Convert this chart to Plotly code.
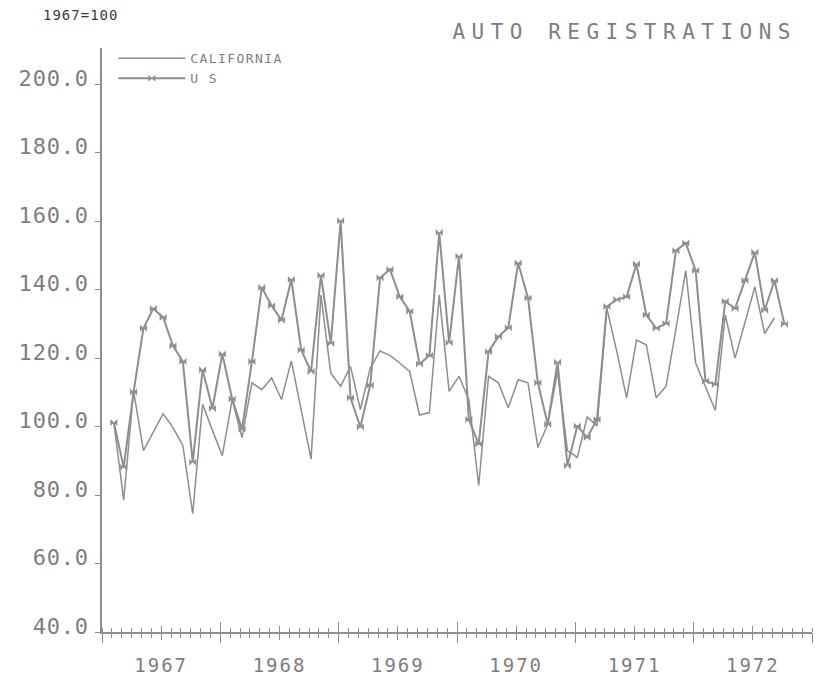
import plotly.graph_objects as go

# ---------------- data ----------------
years = [1967, 1968, 1969, 1970, 1971, 1972]
year_labels = ["1967", "1968", "1969", "1970", "1971", "1972"]

# monthly index values, 1967=100 ; first value = Jan 1967
us = [101.2, 88.1, 110.1, 128.7, 134.5, 131.9, 123.6, 119.0, 89.6, 116.6, 105.3, 121.2,
      108.1, 99.2, 119.0, 140.6, 135.3, 131.1, 143.0, 122.4, 116.1, 144.2, 124.3, 160.1,
      108.4, 99.9, 112.1, 143.5, 145.9, 137.9, 133.7, 118.3, 120.8, 156.7, 124.5, 149.8,
      102.1, 94.9, 121.9, 126.3, 128.9, 147.8, 137.6, 112.8, 100.7, 118.8, 88.6, 100.2,
      96.8, 102.1, 135.1, 137.1, 137.9, 147.5, 132.6, 128.7, 130.1, 151.4, 153.6, 145.6,
      113.3, 112.3, 136.6, 134.5, 142.7, 150.9, 134.0, 142.7, 129.9]

california = [101.2, 78.5, 110.4, 93.0, 98.4, 103.8, 99.7, 94.5, 74.6, 106.5, 98.9, 91.5,
              107.9, 96.8, 112.8, 110.8, 114.2, 107.9, 119.2, 104.8, 90.5, 138.4, 115.6, 111.8,
              117.6, 105.0, 117.1, 122.1, 120.8, 118.5, 116.1, 103.4, 104.1, 138.4, 110.3, 114.7,
              107.9, 82.8, 114.7, 112.8, 105.5, 113.7, 112.8, 93.9, 100.7, 116.1, 93.0, 91.0,
              102.8, 100.2, 134.5, 122.0, 108.4, 125.3, 123.9, 108.4, 111.8, 128.5, 145.6, 118.6,
              111.5, 104.7, 132.6, 120.0, 130.4, 140.8, 127.2, 131.8]

y_ticks = [40, 60, 80, 100, 120, 140, 160, 180, 200]

# ---------------- positions ----------------
months = [(y, m) for y in years for m in range(1, 13)]


def month_pos(ym):
    y, m = ym
    return y + (m + 0.2) / 12.0


x_us = [month_pos(ym) for ym in months[:len(us)]]
x_ca = [month_pos(ym) for ym in months[:len(california)]]

LINE = "#8a8f8f"
TEXT = "#7b7f80"
FONT = "DejaVu Sans Mono"


def spaced(s, px):
    return f"<span style='letter-spacing:{px}px'>{s}</span>"


x_range = [years[0], years[-1] + 1]
year_edges = list(range(years[0], years[-1] + 2))
mid_years = [y + 0.5 for y in years]
month_edges = [years[0] + i / 12.0 for i in range(12 * len(years) + 1)]

fig = go.Figure()
fig.add_trace(go.Scatter(
    x=x_ca, y=california, name=spaced("CALIFORNIA", 1.4), mode="lines",
    line=dict(color=LINE, width=1.5),
))
fig.add_trace(go.Scatter(
    x=x_us, y=us, name=spaced("U S", 1.4), mode="lines+markers",
    line=dict(color=LINE, width=2),
    marker=dict(symbol="bowtie", size=7, color=LINE),
))
# helper traces so the overlay tick axes exist
fig.add_trace(go.Scatter(x=[None], y=[None], xaxis="x2", showlegend=False, hoverinfo="skip"))
fig.add_trace(go.Scatter(x=[None], y=[None], xaxis="x3", showlegend=False, hoverinfo="skip"))

W, H = 815, 679
fig.update_layout(
    width=W, height=H,
    margin=dict(l=92, r=11, t=40, b=51),
    paper_bgcolor="white", plot_bgcolor="white",
    font=dict(family=FONT, color=TEXT),
    title=dict(
        text=spaced("AUTO REGISTRATIONS", 6.5),
        font=dict(family=FONT, size=21, color=TEXT),
        x=789 / W, xanchor="right", xref="container",
        y=1 - 16 / H, yanchor="top", yref="container",
    ),
    showlegend=True,
    legend=dict(
        x=0.016, y=1.008, xanchor="left", yanchor="top",
        bgcolor="rgba(0,0,0,0)", borderwidth=0,
        font=dict(family=FONT, size=13, color=TEXT),
        itemwidth=67, tracegroupgap=0,
    ),
    xaxis=dict(
        range=x_range, showgrid=False, zeroline=False,
        showline=True, linecolor=LINE, linewidth=1.5,
        tickmode="array", tickvals=mid_years,
        ticktext=[spaced(t, 2) for t in year_labels],
        ticks="outside", ticklen=6, tickwidth=1.2, tickcolor=LINE,
        ticklabelstandoff=9,
        tickfont=dict(family=FONT, size=19, color=TEXT),
        minor=dict(tickmode="array", tickvals=month_edges, ticks="outside",
                   ticklen=4, tickwidth=1.2, tickcolor=LINE, showgrid=False),
    ),
    xaxis2=dict(
        overlaying="x", anchor="y", side="bottom", range=x_range,
        showgrid=False, zeroline=False, showline=False, showticklabels=False,
        tickmode="array", tickvals=year_edges, ticks="outside", ticklen=10,
        tickwidth=1.2, tickcolor=LINE,
        minor=dict(tickmode="array", tickvals=month_edges, ticks="inside",
                   ticklen=4, tickwidth=1.2, tickcolor=LINE, showgrid=False),
    ),
    xaxis3=dict(
        overlaying="x", anchor="y", side="bottom", range=x_range,
        showgrid=False, zeroline=False, showline=False, showticklabels=False,
        tickmode="array", tickvals=year_edges, ticks="inside", ticklen=10,
        tickwidth=1.2, tickcolor=LINE,
        minor=dict(tickmode="array", tickvals=mid_years, ticks="inside",
                   ticklen=6, tickwidth=1.2, tickcolor=LINE, showgrid=False),
    ),
    yaxis=dict(
        range=[40, 210.6], showgrid=False, zeroline=False,
        showline=True, linecolor=LINE, linewidth=1.5,
        tickmode="array", tickvals=y_ticks,
        ticktext=[spaced(f"{v:.1f}", 0.8) for v in y_ticks],
        ticks="outside", ticklen=5, tickwidth=1.2, tickcolor=LINE,
        ticklabelposition="outside", ticklabelshift=-6, ticklabelstandoff=2,
        tickfont=dict(family=FONT, size=22, color=TEXT),
    ),
    annotations=[dict(
        text=spaced("1967=100", 1), xref="paper", yref="paper",
        x=-61 / 712, y=(628 - 7) / 588, xanchor="left", yanchor="middle",
        showarrow=False, font=dict(family=FONT, size=14, color="#3a3a3a"),
    )],
)

fig.write_html("out.html")
